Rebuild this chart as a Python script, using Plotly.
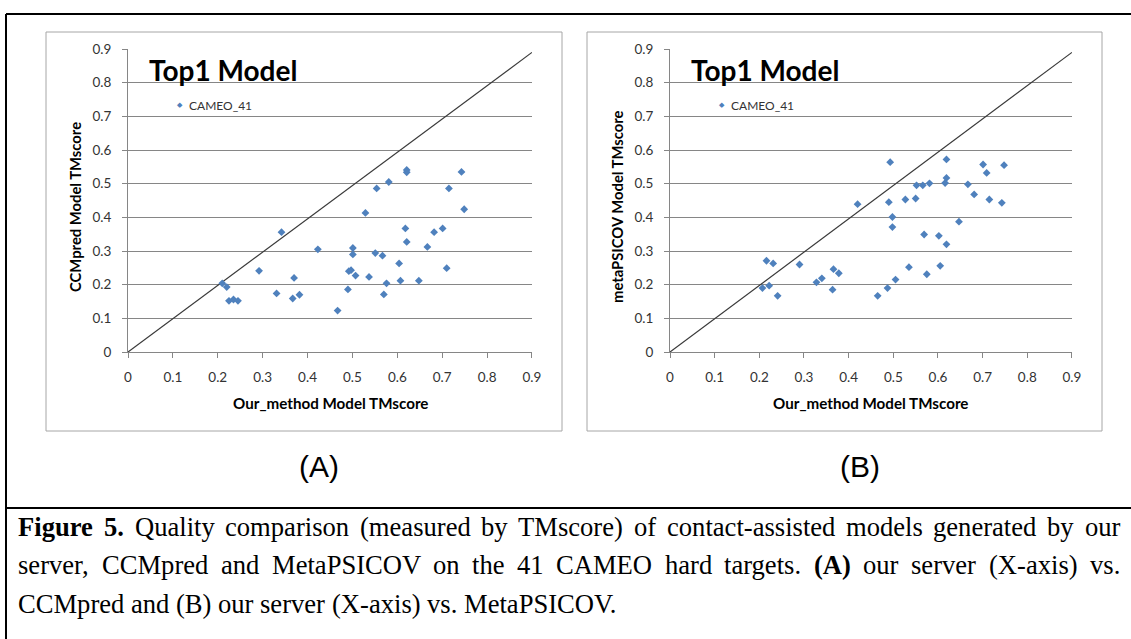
import plotly.graph_objects as go

W, H = 1131, 639

# panel A: our method vs CCMpred (TMscore of top1 model, 41 CAMEO targets)
our_a = [0.210, 0.220, 0.225, 0.235, 0.245, 0.292, 0.342, 0.331, 0.367, 0.370,
         0.382, 0.423, 0.467, 0.490, 0.492, 0.497, 0.507, 0.501, 0.501, 0.621,
         0.621, 0.743, 0.581, 0.554, 0.715, 0.529, 0.749, 0.618, 0.701, 0.682,
         0.621, 0.667, 0.551, 0.567, 0.604, 0.537, 0.710, 0.576, 0.607, 0.648,
         0.570]
ccmpred = [0.204, 0.193, 0.152, 0.156, 0.152, 0.241, 0.356, 0.174, 0.159, 0.220,
           0.170, 0.305, 0.123, 0.186, 0.240, 0.243, 0.227, 0.309, 0.290, 0.541,
           0.534, 0.535, 0.505, 0.486, 0.486, 0.413, 0.424, 0.367, 0.367, 0.356,
           0.327, 0.312, 0.294, 0.286, 0.263, 0.223, 0.249, 0.204, 0.212, 0.212,
           0.171]

# panel B: our method vs metaPSICOV
our_b = [0.420, 0.216, 0.231, 0.290, 0.207, 0.222, 0.241, 0.328, 0.340, 0.366,
         0.378, 0.364, 0.493, 0.490, 0.498, 0.498, 0.465, 0.487, 0.505, 0.535,
         0.527, 0.550, 0.552, 0.566, 0.581, 0.569, 0.575, 0.602, 0.605, 0.619,
         0.619, 0.616, 0.619, 0.647, 0.667, 0.681, 0.701, 0.709, 0.715, 0.743,
         0.748]
metapsicov = [0.439, 0.271, 0.263, 0.260, 0.190, 0.197, 0.167, 0.207, 0.219, 0.246,
              0.234, 0.185, 0.564, 0.445, 0.401, 0.371, 0.167, 0.190, 0.215, 0.252,
              0.453, 0.456, 0.495, 0.495, 0.501, 0.349, 0.231, 0.345, 0.256, 0.572,
              0.517, 0.502, 0.320, 0.387, 0.498, 0.468, 0.557, 0.532, 0.453, 0.443,
              0.555]

diag_x = [0, 0.9]
diag_y = [0, 0.89]

tick_vals = [0, 0.1, 0.2, 0.3, 0.4, 0.5, 0.6, 0.7, 0.8, 0.9]
tick_text = ["0", "0.1", "0.2", "0.3", "0.4", "0.5", "0.6", "0.7", "0.8", "0.9"]

caption_lines = [
    "<b>Figure</b> <b>5.</b> Quality comparison (measured by TMscore) of contact-assisted models generated by our",
    "server, CCMpred and MetaPSICOV on the 41 CAMEO hard targets. <b>(A)</b> our server (X-axis) vs.",
    "CCMpred and (B) our server (X-axis) vs. MetaPSICOV.",
]

# Times advance widths (1/1000 em), used to justify the caption like the original
TIMES = dict(zip("ABCDEFGHIJKLMNOPQRSTUVWXYZ",
                 [722, 667, 667, 722, 611, 556, 722, 722, 333, 389, 722, 611, 889,
                  722, 722, 556, 722, 667, 556, 611, 722, 722, 944, 722, 722, 611]))
TIMES.update(zip("abcdefghijklmnopqrstuvwxyz",
                 [444, 500, 444, 500, 444, 333, 500, 500, 278, 278, 500, 278, 778,
                  500, 500, 500, 500, 333, 389, 278, 500, 500, 722, 500, 500, 444]))
TIMES.update({" ": 250, "(": 333, ")": 333, ",": 250, ".": 250, "-": 333})
TIMES.update({d: 500 for d in "0123456789"})
TIMES_BOLD = dict(TIMES)
TIMES_BOLD.update({"F": 611, "a": 500, "r": 444, "u": 556, "A": 722})

CAP_SIZE = 26.6
CAP_LEFT, CAP_RIGHT = 16, 1118


def word_width(word, size):
    table = TIMES_BOLD if "<b>" in word else TIMES
    plain = word.replace("<b>", "").replace("</b>", "")
    return sum(table.get(ch, 500) for ch in plain) * size / 1000


def px(x):
    return x / W


def py(y):
    return 1 - y / H


BLUE = "#4f81bd"
GRID = "#868686"
CHART_FONT = "Lato"

fig = go.Figure()

panels = [
    dict(x=our_a, y=ccmpred, xa="x", ya="y",
         left=128, right=532, ytitle="CCMpred Model TMscore", label="(A)",
         box=(46, 32, 562, 431)),
    dict(x=our_b, y=metapsicov, xa="x2", ya="y2",
         left=670, right=1072, ytitle="metaPSICOV Model TMscore", label="(B)",
         box=(587, 32, 1102, 431)),
]

for i, p in enumerate(panels):
    fig.add_trace(go.Scatter(
        x=diag_x, y=diag_y, mode="lines", xaxis=p["xa"], yaxis=p["ya"],
        line=dict(color="#3a3a3a", width=1.2), showlegend=False, hoverinfo="skip"
    ))
    fig.add_trace(go.Scatter(
        x=p["x"], y=p["y"], mode="markers", name="CAMEO_41",
        xaxis=p["xa"], yaxis=p["ya"], showlegend=False,
        marker=dict(symbol="diamond", size=6, color=BLUE)
    ))
    sfx = "" if i == 0 else "2"
    axis_common = dict(
        range=[0, 0.9001], tickvals=tick_vals, ticktext=tick_text,
        showline=True, linecolor=GRID, linewidth=1,
        ticks="outside", ticklen=5, tickcolor=GRID,
        tickfont=dict(family=CHART_FONT, size=13.5, color="#333333"),
        zeroline=False, automargin=False, ticklabelstandoff=8,
    )
    fig.layout["xaxis" + sfx] = dict(
        axis_common, domain=[px(p["left"]), px(p["right"])], showgrid=False,
        anchor="y" + sfx,
    )
    fig.layout["yaxis" + sfx] = dict(
        axis_common, domain=[py(352), py(49)], showgrid=True,
        gridcolor=GRID, gridwidth=1, anchor="x" + sfx,
    )

    x0, y0, x1, y1 = p["box"]
    fig.add_shape(type="rect", xref="paper", yref="paper",
                  x0=px(x0), x1=px(x1), y0=py(y1), y1=py(y0),
                  line=dict(color="#a6a6a6", width=1))

    mid = (p["left"] + p["right"]) / 2
    ann = dict(xref="paper", yref="paper", showarrow=False, yanchor="middle")
    fig.add_annotation(ann, x=px(p["left"] + 19), y=py(70), xanchor="left",
                       text="<b>Top1 Model</b>",
                       font=dict(family=CHART_FONT, size=28, color="#000000"))
    # legend key
    fig.add_annotation(ann, x=px(p["left"] + 52), y=py(105), xanchor="center",
                       text="◆", font=dict(family="DejaVu Sans", size=7, color=BLUE))
    fig.add_annotation(ann, x=px(p["left"] + 59), y=py(105), xanchor="left",
                       text="CAMEO_41",
                       font=dict(family=CHART_FONT, size=12, color="#333333"))
    fig.add_annotation(ann, x=px(p["left"] - 53), y=py(207), xanchor="center",
                       text="<b>" + p["ytitle"] + "</b>", textangle=-90,
                       font=dict(family=CHART_FONT, size=14.8, color="#000000"))
    fig.add_annotation(ann, x=px(mid), y=py(403), xanchor="center",
                       text="<b>Our_method Model TMscore</b>",
                       font=dict(family=CHART_FONT, size=15.2, color="#000000"))
    fig.add_annotation(ann, x=px(mid - 11), y=py(466), xanchor="center",
                       text=p["label"],
                       font=dict(family="Liberation Sans", size=30, color="#000000"))

# outer table lines
for x0, y0, x1, y1 in [(6, 14, W, 14), (6, 14, 6, H), (6, 508, W, 508)]:
    fig.add_shape(type="line", xref="paper", yref="paper",
                  x0=px(x0), x1=px(x1), y0=py(y0), y1=py(y1),
                  line=dict(color="#000000", width=2))

# caption, justified word by word except the last line
for k, line in enumerate(caption_lines):
    words = line.split(" ")
    widths = [word_width(w, CAP_SIZE) for w in words]
    if k < len(caption_lines) - 1:
        gap = (CAP_RIGHT - CAP_LEFT - sum(widths)) / (len(words) - 1)
    else:
        gap = 0.25 * CAP_SIZE
    xpos = CAP_LEFT
    for w, wd in zip(words, widths):
        fig.add_annotation(x=px(xpos), y=py(527 + 38.3 * k), xref="paper", yref="paper",
                           text=w, showarrow=False, xanchor="left", yanchor="middle",
                           font=dict(family="Liberation Serif", size=CAP_SIZE, color="#000000"))
        xpos += wd + gap

fig.update_layout(
    width=W, height=H,
    margin=dict(l=0, r=0, t=0, b=0),
    plot_bgcolor="white", paper_bgcolor="white",
    showlegend=False,
)

# the page's default body margin would push the figure 8px down and right
fig.write_html("out.html", config={"displayModeBar": False},
               post_script="document.body.style.margin = '0px';")
